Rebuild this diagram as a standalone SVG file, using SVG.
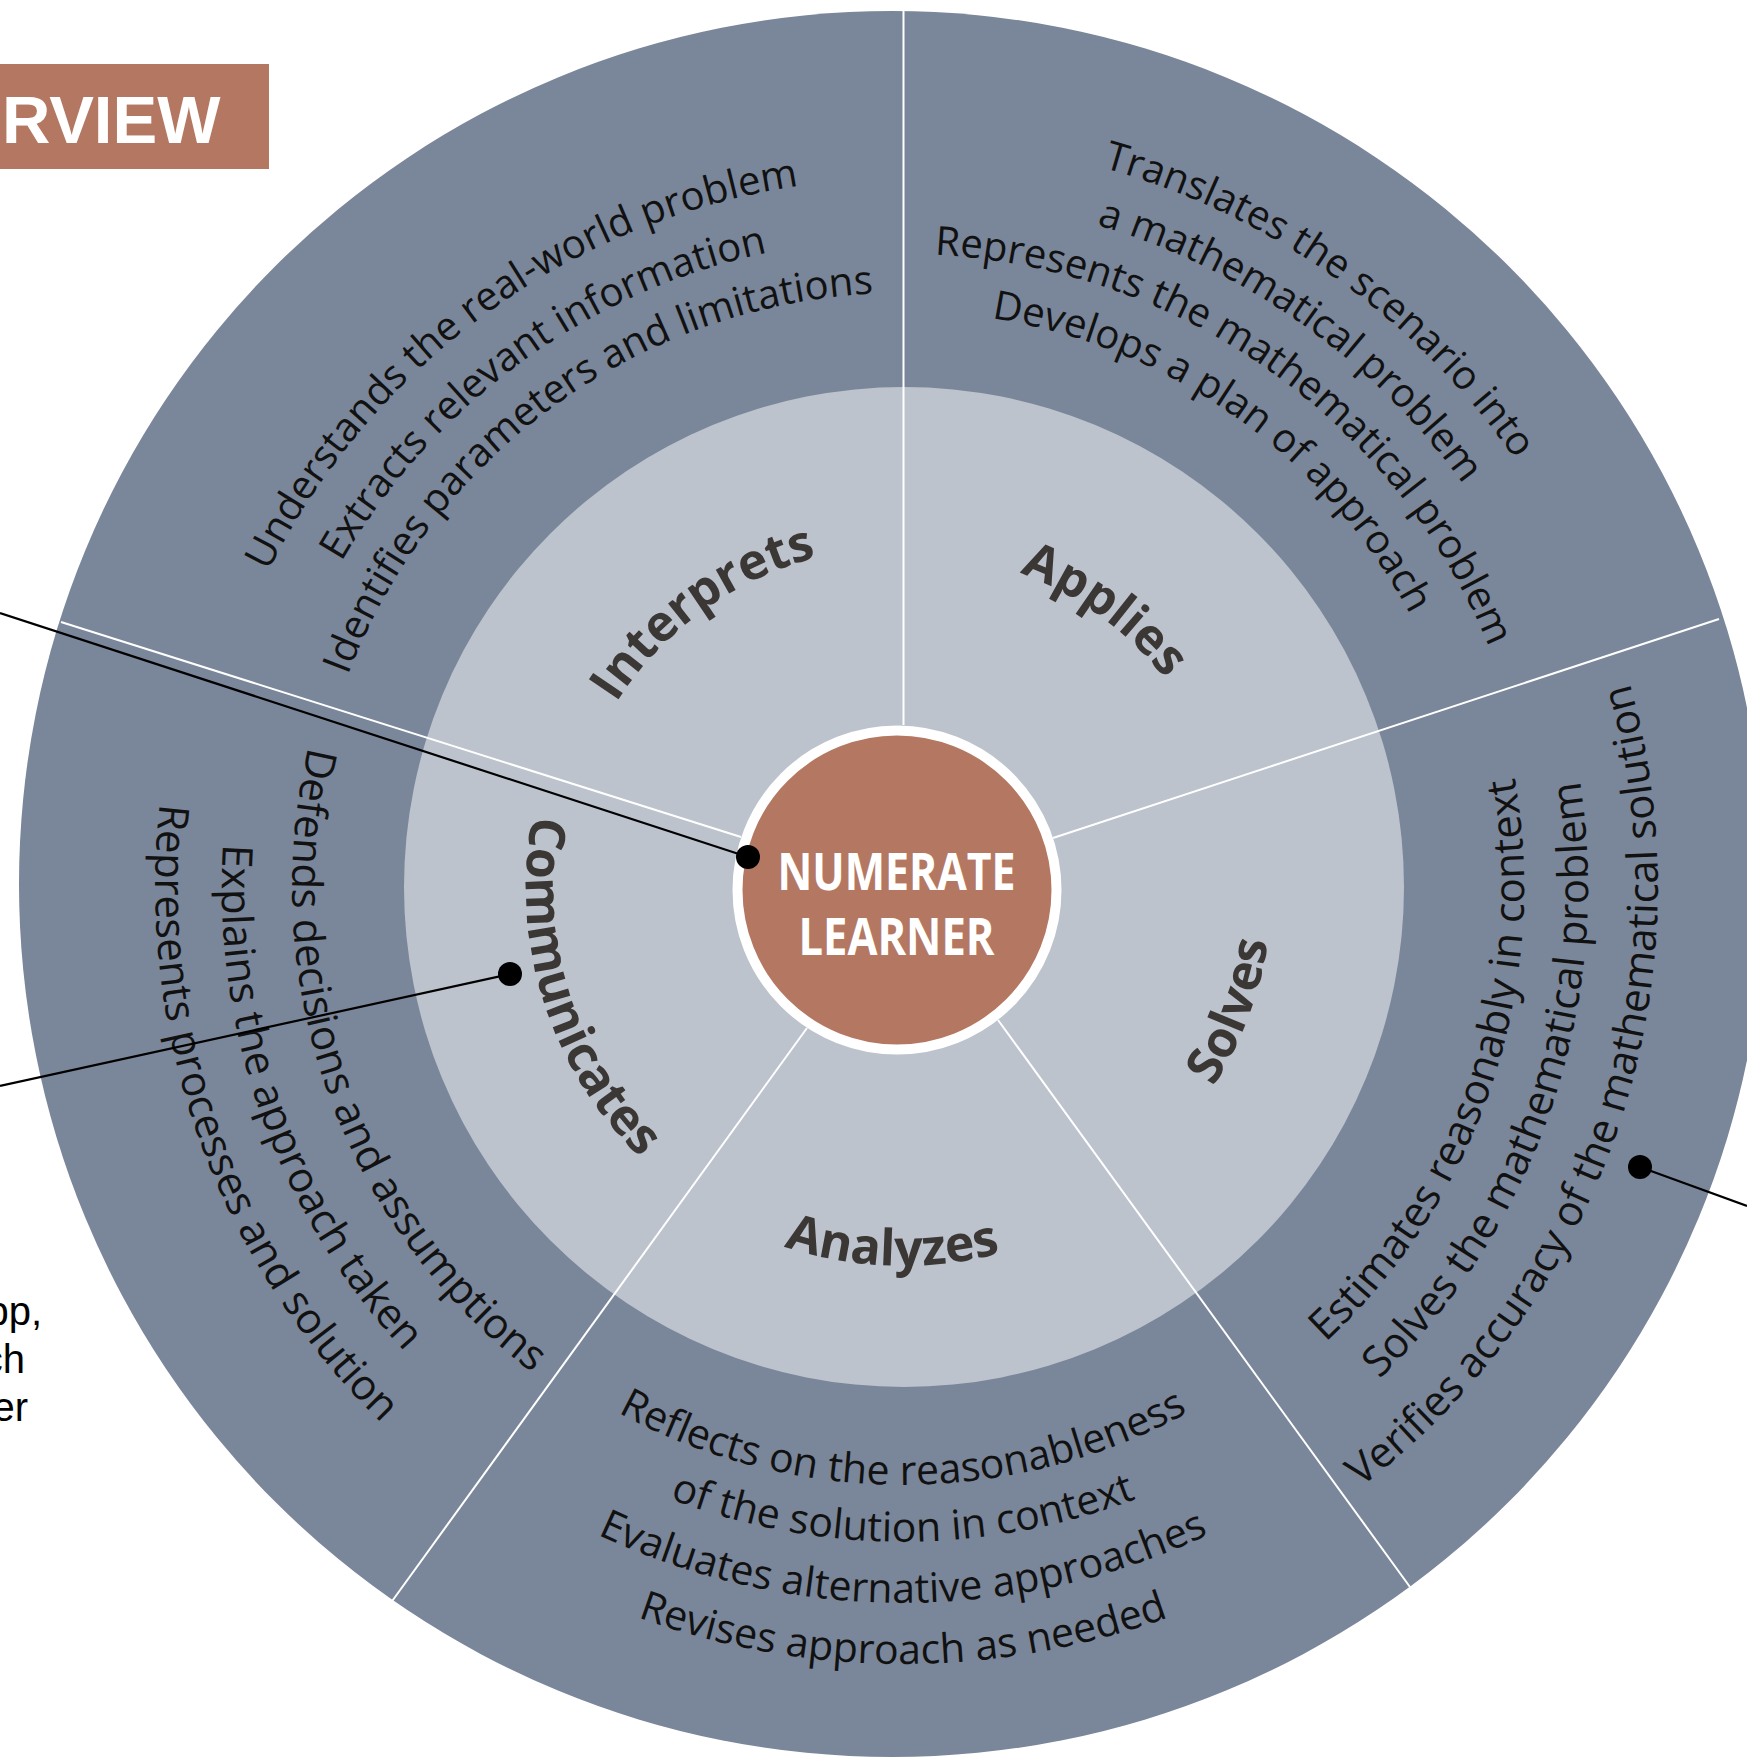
<svg xmlns="http://www.w3.org/2000/svg" xmlns:xlink="http://www.w3.org/1999/xlink" width="1747" height="1759" viewBox="0 0 1747 1759">
<style>
.o{font-family:"Open Sans","Noto Sans",sans-serif;font-size:40px;fill:#111;text-anchor:middle}
.oa{font-size:41px}
.o2{font-size:42px}
.b{font-family:"Open Sans","Noto Sans",sans-serif;font-size:50px;font-weight:700;fill:#3a3735;text-anchor:middle}
.div{stroke:#fff;stroke-width:2;fill:none}
.con{stroke:#000;stroke-width:2.2;fill:none}
.side{font-family:"Liberation Sans",Arial,sans-serif;font-size:40px;fill:#000;text-anchor:end}
.ctr{font-family:"Open Sans","Noto Sans",sans-serif;font-size:52px;font-weight:700;fill:#fff;text-anchor:middle}
</style>
<defs>
<path id="t709" d="M204.8 763.9 A709 709 0 0 1 1601.2 763.9"/>
<path id="t649" d="M263.9 774.3 A649 649 0 0 1 1542.1 774.3"/>
<path id="t594" d="M318.0 783.9 A594 594 0 0 1 1488.0 783.9"/>
<path id="t747" d="M167.4 757.3 A747 747 0 0 1 1638.6 757.3"/>
<path id="t690" d="M223.5 767.2 A690 690 0 0 1 1582.5 767.2"/>
<path id="t633" d="M279.6 777.1 A633 633 0 0 1 1526.4 777.1"/>
<path id="t576" d="M335.8 787.0 A576 576 0 0 1 1470.2 787.0"/>
<path id="t341" d="M567.2 827.8 A341 341 0 0 1 1238.8 827.8"/>
<path id="t335" d="M573.1 828.8 A335 335 0 0 1 1232.9 828.8"/>
<path id="u621" d="M291.4 994.8 A621 621 0 0 0 1514.6 994.8"/>
<path id="u685" d="M228.4 1005.9 A685 685 0 0 0 1577.6 1005.9"/>
<path id="u755" d="M159.5 1018.1 A755 755 0 0 0 1646.5 1018.1"/>
<path id="u598" d="M314.1 990.8 A598 598 0 0 0 1491.9 990.8"/>
<path id="u655" d="M258.0 1000.7 A655 655 0 0 0 1548.0 1000.7"/>
<path id="u716" d="M197.9 1011.3 A716 716 0 0 0 1608.1 1011.3"/>
<path id="u777" d="M137.8 1021.9 A777 777 0 0 0 1668.2 1021.9"/>
<path id="u611" d="M301.3 993.1 A611 611 0 0 0 1504.7 993.1"/>
<path id="u681" d="M232.3 1005.3 A681 681 0 0 0 1573.7 1005.3"/>
<path id="u748" d="M166.4 1016.9 A748 748 0 0 0 1639.6 1016.9"/>
<path id="u369" d="M539.6 951.1 A369 369 0 0 0 1266.4 951.1"/>
<path id="u379" d="M529.8 952.8 A379 379 0 0 0 1276.2 952.8"/>
<path id="u377" d="M531.7 952.5 A377 377 0 0 0 1274.3 952.5"/>
</defs>
<rect width="1747" height="1759" fill="#fff"/>
<g id="header">
<rect x="0" y="64" width="269" height="105" fill="#b47862"/>
<text x="2" y="143" font-family="Liberation Sans, Arial, sans-serif" font-size="67" font-weight="700" fill="#fff">RVIEW</text>
</g>
<g id="side-text">
<text class="side" x="42" y="1325">pp,</text>
<text class="side" x="25" y="1373">ch</text>
<text class="side" x="28" y="1421">er</text>
</g>
<g id="wheel">
<circle cx="892" cy="884" r="873" fill="#7a8699"/>
<circle cx="904" cy="887" r="500" fill="#bcc3cd"/>
</g>
<g id="dividers">
<line class="div" x1="903.5" y1="725" x2="903.5" y2="8"/>
<line class="div" x1="1053" y1="838" x2="1719" y2="619"/>
<line class="div" x1="998" y1="1020" x2="1410" y2="1587"/>
<line class="div" x1="807" y1="1028" x2="390" y2="1604"/>
<line class="div" x1="741" y1="837" x2="61" y2="622"/>
</g>
<g id="interprets">
<text class="b" transform="rotate(-36 903 887)"><textPath href="#t341" xlink:href="#t341" startOffset="50%">Interprets</textPath></text>
<g transform="rotate(-36 903 887)">
<text class="o"><textPath href="#t709" xlink:href="#t709" startOffset="50%">Understands the real-world problem</textPath></text>
<text class="o"><textPath href="#t649" xlink:href="#t649" startOffset="50%">Extracts relevant information</textPath></text>
<text class="o"><textPath href="#t594" xlink:href="#t594" startOffset="50%">Identifies parameters and limitations</textPath></text>
</g>
</g>
<g id="applies">
<text class="b" transform="rotate(36 903 887)"><textPath href="#t335" xlink:href="#t335" startOffset="50%">Applies</textPath></text>
<g transform="rotate(35.3 903 887)">
<text class="o"><textPath href="#t747" xlink:href="#t747" startOffset="50%">Translates the scenario into</textPath></text>
<text class="o"><textPath href="#t690" xlink:href="#t690" startOffset="50%">a mathematical problem</textPath></text>
<text class="o"><textPath href="#t633" xlink:href="#t633" startOffset="50%">Represents the mathematical problem</textPath></text>
<text class="o"><textPath href="#t576" xlink:href="#t576" startOffset="50%">Develops a plan of approach</textPath></text>
</g>
</g>
<g id="solves">
<text class="b" transform="rotate(-69.4 903 887)"><textPath href="#u369" xlink:href="#u369" startOffset="50%">Solves</textPath></text>
<g transform="rotate(-71.5 903 887)">
<text class="o o2"><textPath href="#u621" xlink:href="#u621" startOffset="50%">Estimates reasonably in context</textPath></text>
<text class="o o2"><textPath href="#u685" xlink:href="#u685" startOffset="50%">Solves the mathematical problem</textPath></text>
<text class="o o2"><textPath href="#u755" xlink:href="#u755" startOffset="50%">Verifies accuracy of the mathematical solution</textPath></text>
</g>
</g>
<g id="analyzes">
<text class="b" transform="rotate(1.7 903 887)"><textPath href="#u379" xlink:href="#u379" startOffset="50%">Analyzes</textPath></text>
<text class="o oa"><textPath href="#u598" xlink:href="#u598" startOffset="50%">Reflects on the reasonableness</textPath></text>
<text class="o oa"><textPath href="#u655" xlink:href="#u655" startOffset="50%">of the solution in context</textPath></text>
<text class="o oa"><textPath href="#u716" xlink:href="#u716" startOffset="50%">Evaluates alternative approaches</textPath></text>
<text class="o oa"><textPath href="#u777" xlink:href="#u777" startOffset="50%">Revises approach as needed</textPath></text>
</g>
<g id="communicates">
<text class="b" transform="rotate(72.5 903 887)"><textPath href="#u377" xlink:href="#u377" startOffset="50%">Communicates</textPath></text>
<g transform="rotate(70.3 903 887)">
<text class="o o2"><textPath href="#u611" xlink:href="#u611" startOffset="50%">Defends decisions and assumptions</textPath></text>
<text class="o o2"><textPath href="#u681" xlink:href="#u681" startOffset="50%">Explains the approach taken</textPath></text>
<text class="o o2"><textPath href="#u748" xlink:href="#u748" startOffset="50%">Represents processes and solution</textPath></text>
</g>
</g>
<g id="center">
<circle cx="897" cy="890" r="159.5" fill="#b47862" stroke="#fff" stroke-width="10"/>
<text class="ctr" x="896.5" y="890" textLength="238" lengthAdjust="spacingAndGlyphs">NUMERATE</text>
<text class="ctr" x="896.5" y="955" textLength="196" lengthAdjust="spacingAndGlyphs">LEARNER</text>
</g>
<g id="connectors">
<line class="con" x1="0" y1="613" x2="748" y2="857"/>
<line class="con" x1="0" y1="1086" x2="510" y2="974"/>
<line class="con" x1="1640" y1="1167" x2="1747" y2="1206"/>
<circle cx="748" cy="857" r="12" fill="#000"/>
<circle cx="510" cy="974" r="12" fill="#000"/>
<circle cx="1640" cy="1167" r="12" fill="#000"/>
</g>
</svg>
